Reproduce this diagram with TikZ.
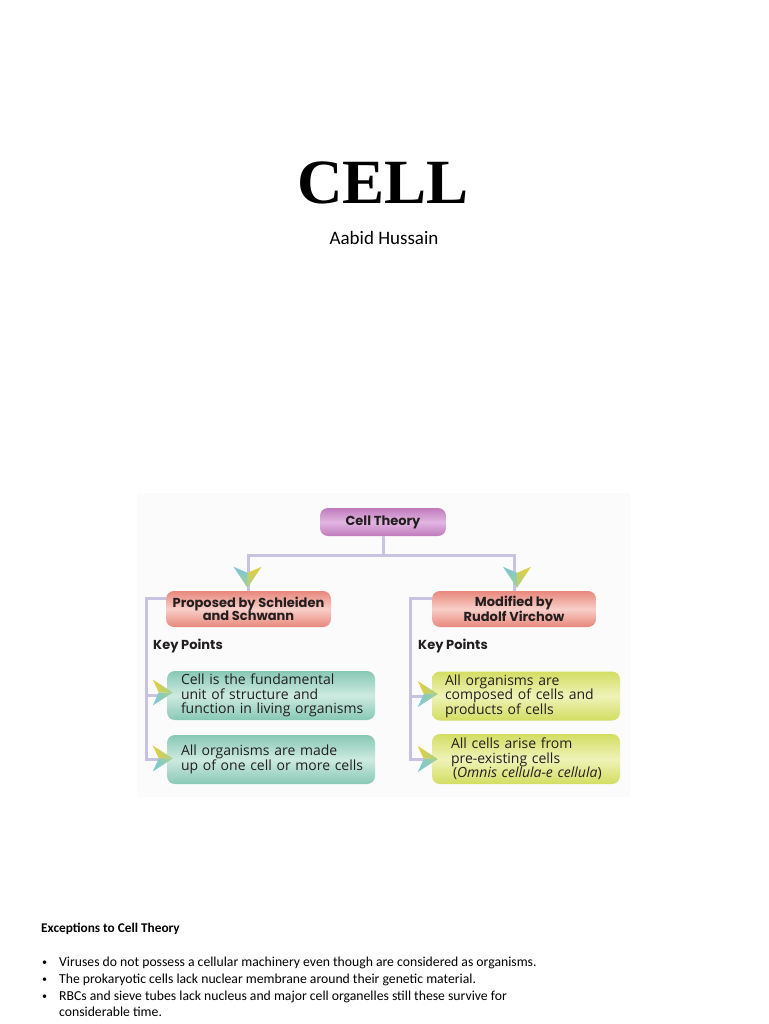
\documentclass[tikz,border=0pt]{standalone}
\usepackage{fontspec}
\setmainfont{Carlito}
\newfontfamily\titlefont{Liberation Serif}
\newfontfamily\headfont{Poppins}
\newfontfamily\bodyfont{Open Sans}
\usetikzlibrary{calc}
\newcommand\nobr[1]{\mbox{#1}}
\definecolor{lav}{HTML}{C9C3E3}
\definecolor{txt}{HTML}{231F20}
\definecolor{pur}{HTML}{C07BBE}
\definecolor{purl}{HTML}{E2B5E0}
\definecolor{red1}{HTML}{E8877C}
\definecolor{redl}{HTML}{F8CFC8}
\definecolor{teal1}{HTML}{88C8B5}
\definecolor{teall}{HTML}{CDEAE0}
\definecolor{yel1}{HTML}{D3DD62}
\definecolor{yell}{HTML}{EEF3B8}
\definecolor{acyan}{HTML}{7CC8DC}
\definecolor{ayel}{HTML}{E6CF3E}
\definecolor{agrn}{HTML}{A6D08C}
\definecolor{bgd}{HTML}{FBFBFB}
\tikzset{
  box/.style={rounded corners=8pt, inner sep=0pt, text=txt},
  ctbox/.style={box, top color=pur, bottom color=pur, middle color=purl,
    minimum width=126pt, minimum height=28pt, font=\headfont\bfseries\fontsize{13}{14}\selectfont},
  redbox/.style={box, top color=red1, bottom color=red1, middle color=redl,
    minimum width=165pt, minimum height=36pt, align=center,
    font=\headfont\bfseries\fontsize{13}{13.5}\selectfont},
  tealbox/.style={box, top color=teal1, bottom color=teal1, middle color=teall,
    text width=180pt, inner xsep=14pt, minimum height=49pt, align=left,
    font=\bodyfont\fontsize{14}{14.5}\selectfont},
  yelbox/.style={box, top color=yel1, bottom color=yel1, middle color=yell,
    text width=162pt, inner xsep=13pt, minimum height=49pt, align=left,
    font=\bodyfont\fontsize{14}{14.5}\selectfont},
  keyp/.style={anchor=west, inner sep=0pt, text=txt, font=\headfont\bfseries\fontsize{13}{14}\selectfont},
  conn/.style={draw=lav, line width=3pt},
  downhead/.pic={
    \shade[top color=acyan, bottom color=agrn] (-14,0) -- (0,6) -- (0,21) -- cycle;
    \shade[top color=ayel, bottom color=agrn] (0,6) -- (14,0) -- (0,21) -- cycle;
  },
  righthead/.pic={
    \shade[left color=ayel, right color=agrn] (0,-13) -- (6,0) -- (20,0) -- cycle;
    \shade[left color=acyan, right color=agrn] (0,13) -- (6,0) -- (20,0) -- cycle;
  },
  bl/.style={anchor=base west, inner sep=0pt, font=\fontsize{13.7}{16.7}\selectfont},
  dot/.style={anchor=base west, inner sep=0pt, font=\fontsize{10}{12}\selectfont}
}
\begin{document}
\begin{tikzpicture}[x=1pt,y=-1pt]
\useasboundingbox (0,0) rectangle (768,1024);
\fill[white] (0,0) rectangle (768,1024);
% title
\node[inner sep=0pt, font=\titlefont\bfseries\fontsize{63}{70}\selectfont] (title) at (383,183) {CELL};
\node[anchor=base, inner sep=0pt, font=\fontsize{19}{22}\selectfont] (author) at (384,244) {Aabid Hussain};
% diagram background
\fill[bgd] (137,493) rectangle (630,797);
% nodes
\node[ctbox] (ct) at (383,522) {Cell Theory};
\node[redbox] (p1) at (248.5,609) {Proposed by Schleiden\\and Schwann};
\node[redbox, minimum width=164pt] (p2) at (514,609) {Modified by\\Rudolf Virchow};
\node[keyp] (k1) at (153,646) {Key Points};
\node[keyp] (k2) at (418,646) {Key Points};
\node[tealbox] (t1) at (271,695.5) {\nobr{Cell is the fundamental}\\\nobr{unit of structure and}\\\nobr{function in living organisms}};
\node[tealbox] (t2) at (271,759.5) {\nobr{All organisms are made}\\\nobr{up of one cell or more cells}};
\node[yelbox] (y1) at (526,696) {\nobr{All organisms are}\\\nobr{composed of cells and}\\\nobr{products of cells}};
\node[yelbox, text width=150pt, inner xsep=19pt, minimum height=50pt] (y2) at (526,759) {\nobr{All cells arise from}\\\nobr{pre-existing cells}\\\nobr{\hspace*{2pt}(\textit{Omnis cellula-e cellula})}};
% connectors
\draw[conn] (ct.south) -- ++(0,19) -| (p1.north);
\draw[conn] (ct.south) -- ++(0,19) -| (p2.north);
\draw[conn] ([yshift=11pt]p1.west) -- ++(-19,0) |- (t2.west);
\draw[conn] (t1.west) -- ++(-21,0);
\draw[conn] ([yshift=11pt]p2.west) -- ++(-21,0) |- (y2.west);
\draw[conn] (y1.west) -- ++(-22,0);
% arrowheads
\pic at ($(p1.north)+(-1,-24)$) {downhead};
\pic at ($(p2.north)+(3,-24)$) {downhead};
\pic at ($(t1.west)+(-14,-3)$) {righthead};
\pic at ($(t2.west)+(-14,-1)$) {righthead};
\pic at ($(y1.west)+(-14,-2)$) {righthead};
\pic at ($(y2.west)+(-14,0)$) {righthead};
% exceptions
\node[anchor=base west, inner sep=0pt, font=\bfseries\fontsize{13.3}{16}\selectfont] (ex) at (41,932) {Exceptions to Cell Theory};
\node[dot] (d1) at (42,965) {•};
\node[bl] (e1) at (59,966) {Viruses do not possess a cellular machinery even though are considered as organisms.};
\node[dot] (d2) at (42,982) {•};
\node[bl] (e2) at (59,983) {The prokaryotic cells lack nuclear membrane around their genetic material.};
\node[dot] (d3) at (42,999) {•};
\node[bl] (e3) at (59,1000) {RBCs and sieve tubes lack nucleus and major cell organelles still these survive for};
\node[bl] (e4) at (59,1016) {considerable time.};
\end{tikzpicture}
\end{document}
